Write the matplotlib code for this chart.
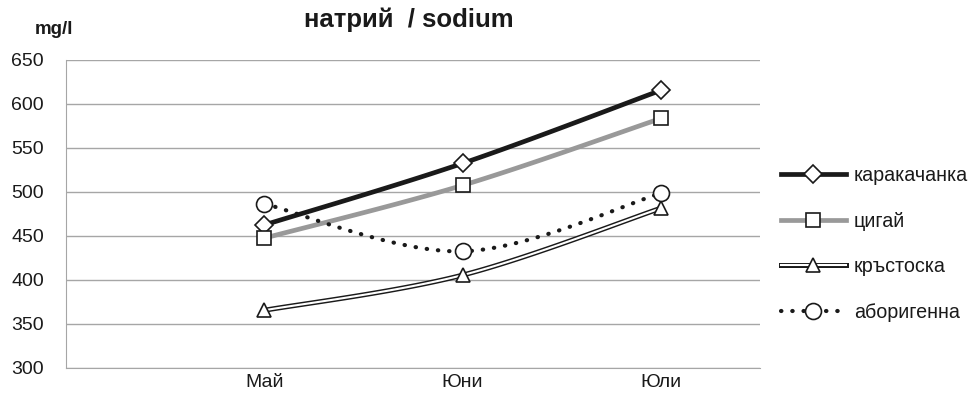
import numpy as np
import matplotlib
matplotlib.use("Agg")
import matplotlib.pyplot as plt
from matplotlib.lines import Line2D

plt.rcParams['font.family'] = ['Liberation Sans', 'DejaVu Sans']

months = ['Май', 'Юни', 'Юли']
karakachanka = [462, 532, 615]
tsigay = [447, 507, 583]
krastoska = [365, 405, 481]
aborigenna = [486, 432, 498]
series_names = ['каракачанка', 'цигай', 'кръстоска', 'аборигенна']
y_ticks = [300, 350, 400, 450, 500, 550, 600, 650]


def smooth(xs, ys, n=40):
    P = np.column_stack([xs, ys]).astype(float)
    m = len(P)
    out = [P[0]]
    for i in range(m - 1):
        p0 = P[max(i - 1, 0)]
        p1 = P[i]
        p2 = P[i + 1]
        p3 = P[min(i + 2, m - 1)]
        c1 = p1 + (p2 - p0) / 6.0
        c2 = p2 - (p3 - p1) / 6.0
        t = np.linspace(0, 1, n)[1:, None]
        seg = ((1 - t) ** 3) * p1 + 3 * ((1 - t) ** 2) * t * c1 + 3 * (1 - t) * t ** 2 * c2 + t ** 3 * p2
        out.extend(seg)
    out = np.array(out)
    return out[:, 0], out[:, 1]


fig = plt.figure(figsize=(9.78, 4.03), dpi=100)
ax = fig.add_axes([66 / 978, 1 - 367.5 / 403, (760 - 66) / 978, (367.5 - 59.5) / 403])

x = np.arange(1, len(months) + 1)
INK = '#1a1a1a'

# каракачанка
sx, sy = smooth(x, karakachanka)
ax.plot(sx, sy, color=INK, lw=3.4, zorder=3, solid_capstyle='butt')
ax.plot(x, karakachanka, ls='none', marker='D', ms=9.5, mfc='white', mec=INK, mew=1.2, zorder=5)

# цигай
sx, sy = smooth(x, tsigay)
ax.plot(sx, sy, color='#999999', lw=3.4, zorder=3, solid_capstyle='butt')
ax.plot(x, tsigay, ls='none', marker='s', ms=9.5, mfc='white', mec=INK, mew=1.2, zorder=5)

# кръстоска (double line)
sx, sy = smooth(x, krastoska)
ax.plot(sx, sy, color=INK, lw=3.6, zorder=3, solid_capstyle='butt')
ax.plot(sx, sy, color='white', lw=1.5, zorder=3.5, solid_capstyle='butt')
ax.plot(x, krastoska, ls='none', marker='^', ms=10.5, mfc='white', mec=INK, mew=1.2, zorder=5)

# аборигенна
sx, sy = smooth(x, aborigenna)
ax.plot(sx, sy, color=INK, lw=3.0, ls=(0, (0.1, 2.6)), dash_capstyle='round', zorder=3)
ax.plot(x, aborigenna, ls='none', marker='o', ms=11.5, mfc='white', mec=INK, mew=1.2, zorder=5)

ax.set_xlim(0, 3.5)
ax.set_ylim(300, 650)
ax.set_yticks(y_ticks)
ax.set_xticks(x)
ax.set_xticklabels(months)
ax.tick_params(axis='both', length=0, labelsize=14, colors=INK)
ax.tick_params(axis='x', pad=5)
ax.tick_params(axis='y', pad=16)
ax.grid(axis='y', color='#a6a6a6', lw=1)
ax.set_axisbelow(True)
for s in ['top', 'right']:
    ax.spines[s].set_visible(False)
ax.spines['left'].set_color('#a6a6a6')
ax.spines['bottom'].set_color('#a6a6a6')

fig.text(409 / 978, 1 - 20 / 403, 'натрий  / sodium', ha='center', va='center',
         fontsize=18.5, fontweight='bold', color=INK)
fig.text(54 / 978, 1 - 30 / 403, 'mg/l', ha='center', va='center',
         fontsize=13.5, fontweight='bold', color=INK)

h1 = Line2D([], [], color=INK, lw=3.4, marker='D', ms=9.5, mfc='white', mec=INK, mew=1.2)
h2 = Line2D([], [], color='#999999', lw=3.4, marker='s', ms=9.5, mfc='white', mec=INK, mew=1.2)
h3a = Line2D([], [], color=INK, lw=3.6)
h3b = Line2D([], [], color='white', lw=1.5, marker='^', ms=10.5, mfc='white', mec=INK, mew=1.2)
h4 = Line2D([], [], color=INK, lw=3.0, ls=(0, (0.1, 2.6)), dash_capstyle='round',
            marker='o', ms=11.5, mfc='white', mec=INK, mew=1.2)
fig.legend([h1, h2, (h3a, h3b), h4], series_names, loc='center left',
           bbox_to_anchor=(763 / 978, 1 - 244 / 403), frameon=False, fontsize=14.2,
           handlelength=3.3, labelspacing=1.35, handletextpad=0.4, labelcolor=INK,
           borderpad=0.4)

fig.savefig('out.png', dpi=100)
